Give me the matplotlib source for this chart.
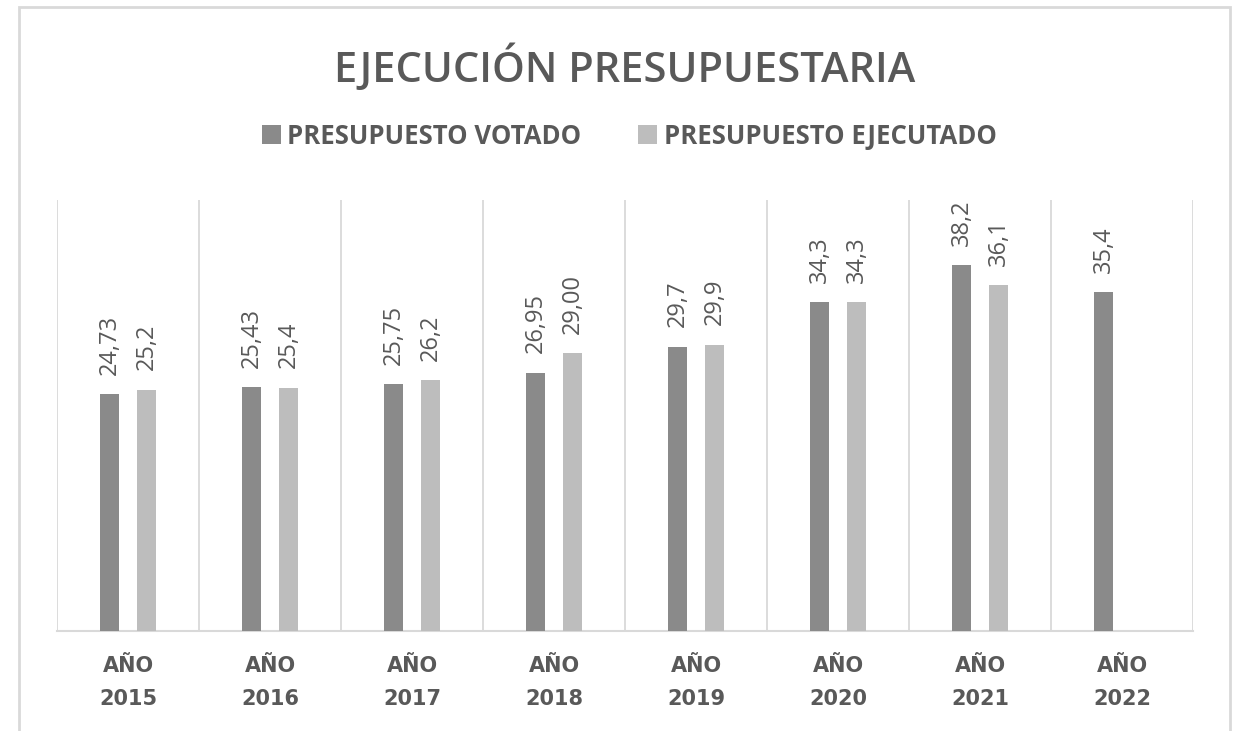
import matplotlib
matplotlib.use("Agg")
import matplotlib.pyplot as plt
import numpy as np
from matplotlib.patches import Rectangle

categories = ["AÑO\n2015", "AÑO\n2016", "AÑO\n2017", "AÑO\n2018",
              "AÑO\n2019", "AÑO\n2020", "AÑO\n2021", "AÑO\n2022"]
votado = [24.73, 25.43, 25.75, 26.95, 29.7, 34.3, 38.2, 35.4]
ejecutado = [25.2, 25.4, 26.2, 29.00, 29.9, 34.3, 36.1, np.nan]
votado_labels = ["24,73", "25,43", "25,75", "26,95", "29,7", "34,3", "38,2", "35,4"]
ejecutado_labels = ["25,2", "25,4", "26,2", "29,00", "29,9", "34,3", "36,1", ""]

title = "EJECUCIÓN PRESUPUESTARIA"
series_names = ["PRESUPUESTO VOTADO", "PRESUPUESTO EJECUTADO"]

C_DARK = "#8a8a8a"
C_LIGHT = "#bdbdbd"
C_TEXT = "#595959"
C_GRID = "#d9d9d9"
FONT = ["Open Sans", "DejaVu Sans"]

fig = plt.figure(figsize=(12.33, 7.31), dpi=100)
fig.patches.append(Rectangle((19/1233, -0.02), (1230-19)/1233, 1.02 - 7/731,
                             transform=fig.transFigure, fill=False,
                             edgecolor=C_GRID, linewidth=2))
ax = fig.add_axes([57/1233, 100/731, (1193-57)/1233, 431/731])

x = np.arange(len(categories))
bw = 0.14
off = 0.13
b1 = ax.bar(x - off, votado, bw, color=C_DARK, zorder=3)
b2 = ax.bar(x + off, ejecutado, bw, color=C_LIGHT, zorder=3)

for xi, v, lab in zip(x - off, votado, votado_labels):
    ax.annotate(lab, (xi, v), xytext=(0, 14), textcoords="offset points",
                rotation=90, ha="center", va="bottom", fontsize=17,
                color=C_TEXT, family=FONT)
for xi, v, lab in zip(x + off, ejecutado, ejecutado_labels):
    if np.isnan(v):
        continue
    ax.annotate(lab, (xi, v), xytext=(0, 14), textcoords="offset points",
                rotation=90, ha="center", va="bottom", fontsize=17,
                color=C_TEXT, family=FONT)

ax.set_xlim(-0.5, len(categories) - 0.5)
ax.set_ylim(0, 45)
for b in np.arange(-0.5, len(categories), 1.0):
    ax.axvline(b, color=C_GRID, linewidth=1.3, zorder=1)
for s in ["top", "right", "left"]:
    ax.spines[s].set_visible(False)
ax.spines["bottom"].set_color(C_GRID)
ax.spines["bottom"].set_linewidth(1.5)
ax.set_yticks([])
ax.set_xticks(x)
ax.set_xticklabels(categories, fontsize=15, fontweight="bold", color=C_TEXT,
                   linespacing=1.8)
ax.tick_params(axis="x", length=0, pad=18)

fig.text(625/1233, 1 - 68/731, title, ha="center", va="center",
         fontsize=30, fontweight="semibold", color=C_TEXT, family=FONT)

leg = fig.legend([b1, b2], series_names, loc="center",
                 bbox_to_anchor=(629/1233, 1 - 136/731), ncol=2, frameon=False,
                 handlelength=0.75, handleheight=0.75, handletextpad=0.25,
                 columnspacing=2.2,
                 prop={"family": FONT, "weight": "bold", "size": 18.5})
for t in leg.get_texts():
    t.set_color(C_TEXT)

fig.savefig("out.png", dpi=100, facecolor="white")
